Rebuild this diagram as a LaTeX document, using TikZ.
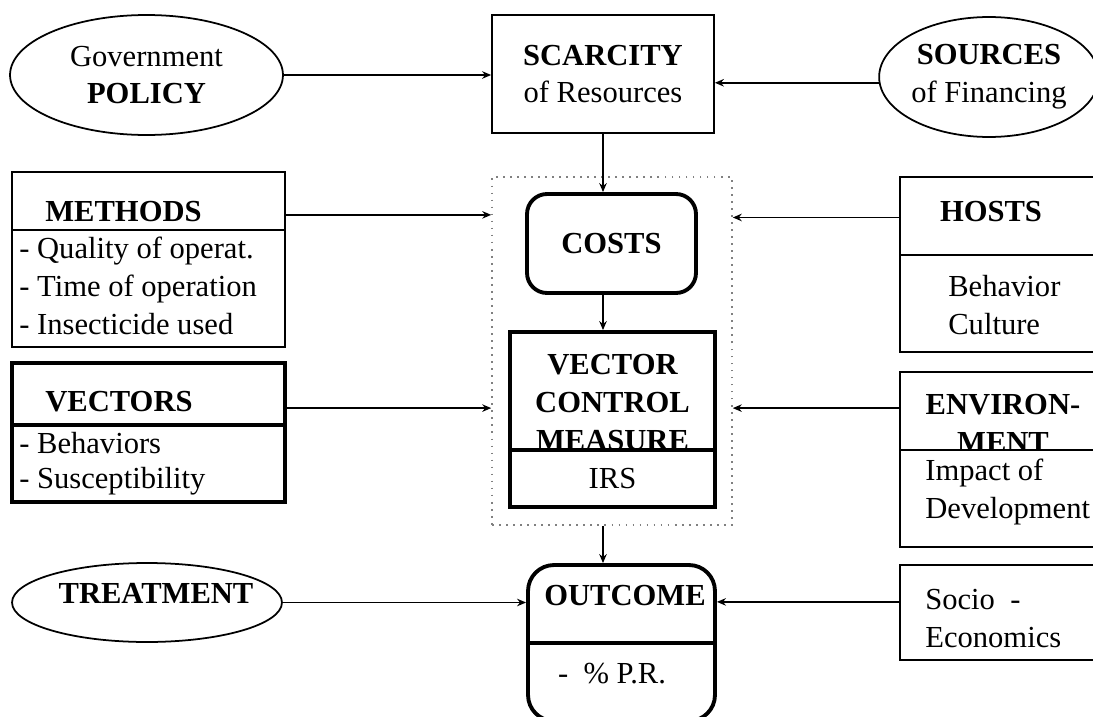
\documentclass[tikz,border=0pt]{standalone}
\usepackage{fontspec}
\setmainfont{Liberation Serif}
\usetikzlibrary{shapes.geometric,arrows.meta}
\newcommand{\diagfont}{\fontsize{17.4}{21.6}\selectfont}

\begin{document}
\begin{tikzpicture}[x=0.02cm, y=-0.02cm,
    box/.style={draw, rectangle, line width=1pt, inner sep=0pt},
    heavybox/.style={draw, rectangle, line width=2.2pt, inner sep=0pt},
    oval/.style={draw, ellipse, line width=1pt, inner sep=0pt, align=center, font=\diagfont},
    txt/.style={inner sep=0pt, font=\diagfont},
    head/.style={inner sep=0pt, font=\diagfont\bfseries},
    arr/.style={-{Stealth[length=1.8mm,width=1.5mm]}, line width=1pt}]
\useasboundingbox (0,0) rectangle (1093,717);

% top row
\node[oval, minimum width=5.46cm, minimum height=2.4cm] (policy) at (146.5,75) {Government\\\textbf{POLICY}};
\node[box, minimum width=4.44cm, minimum height=2.36cm, align=center, font=\diagfont] (scarcity) at (603,74) {\textbf{SCARCITY}\\of Resources};
\node[oval, minimum width=4.28cm, minimum height=2.4cm] (sources) at (989,77) {\textbf{SOURCES}\\of Financing};

% centre column
\node[draw, gray, dash pattern=on 1pt off 3pt, line width=0.9pt, minimum width=4.8cm, minimum height=6.96cm] (group) at (612,351) {};
\node[heavybox, rounded corners=0.4cm, minimum width=3.38cm, minimum height=1.98cm, font=\diagfont\bfseries] (costs) at (611.5,243.5) {COSTS};
\node[heavybox, minimum width=4.1cm, minimum height=3.5cm] (vcm) at (612.5,419.5) {};
\node[head, align=center, anchor=north] (vcmhead) at (612.5,354) {VECTOR\\CONTROL\\MEASURE};
\node[heavybox, fill=white, minimum width=4.1cm, minimum height=1.14cm, font=\diagfont] (vcmsub) at (612.5,478.5) {IRS};
\node[heavybox, rounded corners=0.52cm, minimum width=3.74cm, minimum height=3.12cm] (outcome) at (621.5,643) {};
\draw[line width=2.2pt] (outcome.west) -- (outcome.east);
\node[head] (outcomehead) at (625,596) {OUTCOME};
\node[txt] (outcometxt) at (612,674) {-\ \ \% P.R.};

% left column
\node[box, minimum width=5.46cm, minimum height=3.5cm] (methods) at (148.5,259.5) {};
\node[box, minimum width=5.46cm, minimum height=2.34cm] (methodssub) at (148.5,288.5) {};
\node[head, anchor=west] (methodshead) at (45,212) {METHODS};
\node[txt, align=left, anchor=north west] (methodstxt) at (19,237) {- Quality of operat.\\- Time of operation\\- Insecticide used};
\node[heavybox, minimum width=5.46cm, minimum height=2.78cm] (vectors) at (148.5,432.5) {};
\node[heavybox, minimum width=5.46cm, minimum height=1.54cm] (vectorssub) at (148.5,463.5) {};
\node[head, anchor=west] (vectorshead) at (45,402) {VECTORS};
\node[txt, align=left, anchor=north west, font=\fontsize{17.4}{19.9}\selectfont] (vectorstxt) at (19,432) {- Behaviors\\- Susceptibility};
\node[oval, minimum width=5.4cm, minimum height=1.58cm] (treatment) at (147,602.5) {};
\node[head] (treathead) at (156,593) {TREATMENT};

% right column
\node[box, minimum width=4cm, minimum height=3.5cm] (hosts) at (1000,264.5) {};
\node[box, minimum width=4cm, minimum height=1.94cm] (hostssub) at (1000,303.5) {};
\node[head] (hostshead) at (991,212) {HOSTS};
\node[txt, align=left, anchor=north west] (hoststxt) at (948,275) {Behavior\\Culture};
\node[box, minimum width=4cm, minimum height=3.5cm] (env) at (1000,459.5) {};
\node[head, align=center, anchor=north] (envhead) at (1003,394) {ENVIRON-\\MENT};
\node[box, fill=white, minimum width=4cm, minimum height=1.94cm] (envsub) at (1000,498.5) {};
\node[txt, align=left, anchor=north west] (envtxt) at (925,459) {Impact of\\Development};
\node[box, minimum width=4cm, minimum height=1.9cm] (socio) at (1000,612.5) {};
\node[txt, align=left, anchor=north west] (sociotxt) at (925,589) {Socio\ \ -\\Economics};

% connectors
\draw[arr] (policy.east) -- (policy.east -| scarcity.west);
\draw[arr] (sources.183) -- (sources.183 -| scarcity.east);
\draw[arr] (scarcity.south) -- (scarcity.south |- costs.north);
\draw[arr] (scarcity.south |- costs.south) -- (scarcity.south |- vcm.north);
\draw[arr] (methods.18) -- (methods.18 -| group.west);
\draw[arr] (vectors.10) -- (vectors.10 -| group.west);
\draw[arr] (hosts.155) -- (hosts.155 -| group.east);
\draw[arr] (env.153) -- (env.153 -| group.east);
\draw[arr] (scarcity.south |- group.south) -- (scarcity.south |- outcome.north);
\draw[arr] (treatment.east) -- (treatment.east -| outcome.west);
\draw[arr] (socio.174) -- (socio.174 -| outcome.east);
\end{tikzpicture}
\end{document}
